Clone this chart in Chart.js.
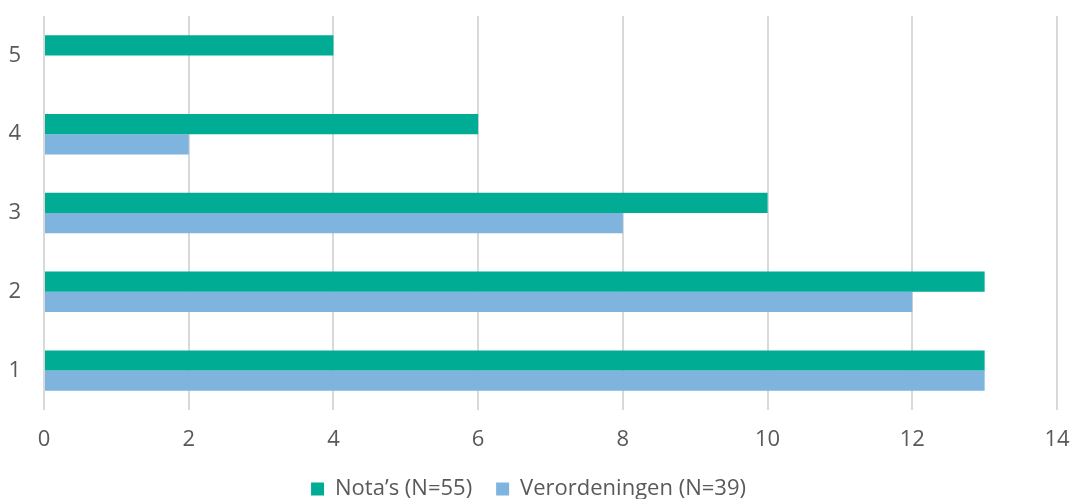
<!DOCTYPE html>
<html>
<head>
<meta charset="utf-8">
<script src="https://cdn.jsdelivr.net/npm/chart.js@4"></script>
<style>
  html, body { margin: 0; padding: 0; background: #fff; }
  #wrap { width: 1075px; height: 499px; }
</style>
</head>
<body>
<div id="wrap"><canvas id="viz" width="1075" height="499"></canvas></div>
<script>
// categories top to bottom
const categories = ['5', '4', '3', '2', '1'];
const notas = [4, 6, 10, 13, 13];
const verordeningen = [0, 2, 8, 12, 13];
const xTicks = [0, 2, 4, 6, 8, 10, 12, 14];

const textColor = '#595959';
const font = { family: "'Open Sans', sans-serif", size: 22 };

const ctx = document.getElementById('viz');
new Chart(ctx, {
  type: 'bar',
  data: {
    labels: categories,
    datasets: [
      {
        label: 'Nota\u2019s (N=55)',
        data: notas,
        backgroundColor: '#00AC93',
        categoryPercentage: 0.513,
        barPercentage: 1
      },
      {
        label: 'Verordeningen (N=39)',
        data: verordeningen,
        backgroundColor: '#7EB4DD',
        categoryPercentage: 0.513,
        barPercentage: 1
      }
    ]
  },
  options: {
    indexAxis: 'y',
    responsive: false,
    animation: false,
    layout: { padding: { top: 16, right: 18, left: 0, bottom: -11 } },
    plugins: {
      tooltip: { enabled: false },
      legend: {
        position: 'bottom',
        labels: {
          color: textColor,
          font: font,
          boxWidth: 13,
          boxHeight: 13,
          padding: 24
        }
      }
    },
    scales: {
      x: {
        min: 0,
        max: 14,
        afterBuildTicks: axis => { axis.ticks = xTicks.map(v => ({ value: v })); },
        afterFit: axis => {
          axis.height = 44;
          axis.paddingLeft = 0;
          axis.paddingRight = 0;
        },
        grid: { color: '#d9d9d9', lineWidth: 2, drawTicks: false },
        border: { display: false },
        ticks: { color: textColor, font: font, padding: 17 }
      },
      y: {
        afterFit: axis => {
          axis.width = 44;
          axis.paddingTop = 0;
          axis.paddingBottom = 0;
        },
        grid: { display: false },
        border: { display: false },
        ticks: { color: textColor, font: font, padding: 15 }
      }
    }
  }
});
</script>
</body>
</html>
